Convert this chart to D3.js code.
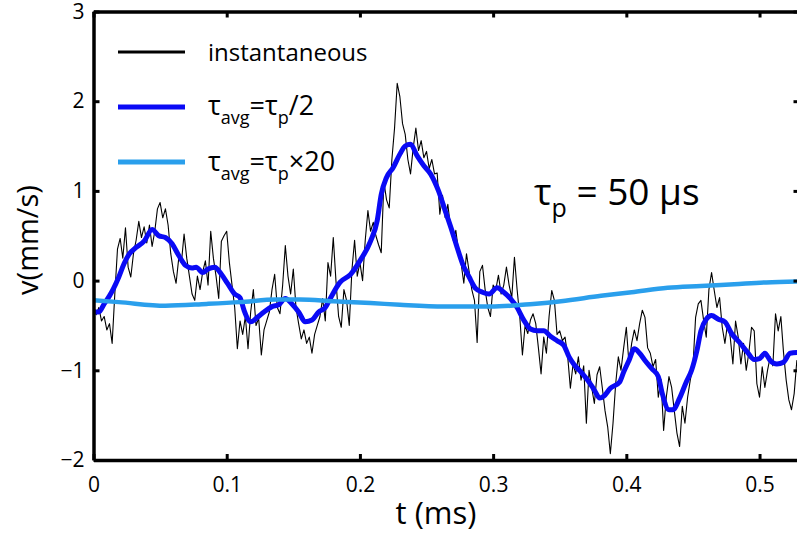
<!DOCTYPE html>
<html><head><meta charset="utf-8">
<script src="https://cdn.jsdelivr.net/npm/d3@7"></script>
<style>body{margin:0;background:#fff;} text{font-family:"Open Sans",sans-serif;fill:#000;}</style>
</head><body><svg id="c" width="797" height="537"></svg>
<script>
// instantaneous velocity, sampled every instDt ms
const instDt = 0.002;
const instV = [
-0.28,-0.38,-0.30,-0.45,-0.40,-0.55,-0.48,-0.70,-0.15,0.35,
0.47,0.25,0.59,0.15,0.04,0.30,0.45,0.66,0.48,0.60,
0.42,0.62,0.38,0.55,0.80,0.87,0.70,0.80,0.62,0.30,
0.10,-0.03,0.25,0.20,0.52,0.25,0.05,-0.15,-0.22,0.05,
-0.10,0.10,0.22,-0.05,0.55,0.25,0.05,-0.20,0.44,0.50,
0.55,0.20,-0.05,-0.30,-0.76,-0.45,-0.60,-0.40,-0.76,-0.35,
-0.10,-0.50,-0.42,-0.83,-0.55,-0.45,-0.35,-0.10,0.07,-0.30,
-0.37,-0.05,0.39,0.05,-0.15,0.13,-0.30,-0.48,-0.65,-0.55,
-0.70,-0.63,-0.81,-0.60,-0.50,-0.40,-0.20,-0.45,0.20,0.05,
0.48,0.00,-0.40,-0.52,-0.10,-0.22,-0.50,0.12,0.45,0.05,
0.20,0.00,0.45,0.78,0.55,0.65,0.50,0.40,0.31,1.10,
0.90,0.81,1.35,1.70,2.20,2.05,1.75,1.63,1.35,1.19,
1.48,1.70,1.45,1.56,1.37,1.44,1.25,1.35,1.19,1.20,
0.74,0.95,0.70,0.85,0.60,0.45,0.56,0.33,0.19,-0.03,
0.30,0.10,-0.10,-0.22,-0.69,0.10,0.17,-0.10,-0.30,-0.40,
-0.05,-0.10,0.06,-0.15,-0.05,0.15,-0.05,-0.19,0.26,-0.10,
-0.40,-0.83,-0.50,-0.59,-0.44,-0.37,-0.48,-0.75,-1.04,-0.63,
-0.81,-0.40,-0.11,-0.22,-0.60,-0.56,-0.67,-0.63,-0.85,-1.20,
-0.93,-1.04,-0.85,-1.11,-0.95,-1.59,-1.00,-1.19,-1.37,-1.05,
-0.96,-1.20,-1.45,-1.63,-1.93,-1.59,-1.15,-0.85,-1.00,-0.75,
-0.52,-0.93,-0.70,-0.55,-0.67,-0.48,-0.33,-0.41,-0.75,-0.81,
-0.96,-0.88,-1.30,-1.10,-1.67,-1.30,-1.07,-1.19,-1.45,-1.70,
-1.85,-1.40,-1.59,-1.30,-1.11,-0.96,-0.41,-0.26,-0.22,-0.44,
-0.63,-0.10,0.09,-0.11,-0.30,-0.19,-0.52,-0.70,-0.48,-0.63,
-0.93,-0.45,-0.63,-0.93,-0.70,-1.00,-0.80,-0.52,-0.56,-1.15,
-1.30,-0.96,-1.19,-1.00,-0.85,-0.95,-0.37,-0.56,-0.40,-0.80,
-1.11,-1.33,-1.44,-1.26,-0.89,-0.95
];
// tau_avg = tau_p/2
const halfT = [0.0004,0.004,0.008,0.012,0.015,0.019,0.023,0.027,0.032,0.038,0.044,0.049,0.054,0.059,0.064,0.069,0.074,0.077,0.082,0.086,0.091,0.096,0.101,0.106,0.110,0.113,0.118,0.123,0.128,0.134,0.139,0.144,0.149,0.154,0.159,0.164,0.169,0.174,0.177,0.185,0.193,0.200,0.208,0.213,0.216,0.220,0.225,0.230,0.234,0.238,0.243,0.248,0.253,0.259,0.264,0.269,0.273,0.277,0.282,0.287,0.292,0.297,0.303,0.308,0.313,0.318,0.323,0.328,0.333,0.338,0.343,0.348,0.353,0.357,0.361,0.366,0.371,0.376,0.380,0.383,0.388,0.395,0.398,0.402,0.406,0.410,0.414,0.419,0.424,0.427,0.432,0.435,0.440,0.445,0.449,0.453,0.456,0.460,0.464,0.469,0.474,0.479,0.485,0.491,0.496,0.500,0.504,0.508,0.513,0.518,0.523,0.530];
const halfV = [-0.35,-0.35,-0.26,-0.17,-0.09,0.04,0.19,0.30,0.37,0.44,0.57,0.50,0.48,0.41,0.28,0.17,0.14,0.15,0.09,0.13,0.15,0.07,-0.04,-0.15,-0.19,-0.33,-0.46,-0.41,-0.35,-0.29,-0.27,-0.20,-0.26,-0.35,-0.46,-0.44,-0.35,-0.30,-0.22,-0.02,0.07,0.22,0.44,0.67,0.96,1.15,1.26,1.41,1.50,1.52,1.39,1.28,1.19,1.00,0.78,0.56,0.37,0.19,0.04,-0.09,-0.13,-0.15,-0.08,-0.13,-0.20,-0.30,-0.44,-0.54,-0.56,-0.56,-0.62,-0.67,-0.72,-0.85,-0.94,-1.02,-1.11,-1.22,-1.31,-1.29,-1.20,-1.13,-1.02,-0.89,-0.76,-0.81,-0.89,-0.98,-1.07,-1.26,-1.44,-1.44,-1.31,-1.13,-1.00,-0.78,-0.56,-0.43,-0.39,-0.43,-0.46,-0.59,-0.69,-0.80,-0.88,-0.87,-0.81,-0.89,-0.93,-0.91,-0.81,-0.80];
// tau_avg = tau_p x 20
const longT = [0,0.019,0.054,0.085,0.110,0.137,0.155,0.180,0.208,0.230,0.263,0.298,0.330,0.351,0.381,0.404,0.431,0.456,0.481,0.505,0.530];
const longV = [-0.22,-0.24,-0.28,-0.26,-0.24,-0.21,-0.21,-0.23,-0.25,-0.27,-0.29,-0.29,-0.26,-0.23,-0.17,-0.13,-0.08,-0.06,-0.04,-0.02,-0.01];
const xTicks = [0,0.1,0.2,0.3,0.4,0.5];
const yTicks = [-2,-1,0,1,2,3];

const svg = d3.select("#c");
const L = 93.5, R = 799.5, T = 11.5, B = 460;
const x = d3.scaleLinear().domain([0,0.53]).range([L,R]);
const y = d3.scaleLinear().domain([-2,3]).range([B,T]);

svg.append("defs").append("clipPath").attr("id","clip")
  .append("rect").attr("x",L).attr("y",T).attr("width",R-L).attr("height",B-T);

const g = svg.append("g").attr("clip-path","url(#clip)");
const line = d3.line().x(d=>x(d[0])).y(d=>y(d[1]));
const inst = instV.map((v,i)=>[i*instDt, v]);
const half = halfT.map((t,i)=>[t, halfV[i]]);
const lng = longT.map((t,i)=>[t, longV[i]]);
g.append("path").datum(inst).attr("d",line).attr("fill","none").attr("stroke","#000").attr("stroke-width",1.1).attr("stroke-linejoin","round");
const sm = d3.line().x(d=>x(d[0])).y(d=>y(d[1])).curve(d3.curveMonotoneX);
g.append("path").datum(half).attr("d",sm).attr("fill","none").attr("stroke","#0a0af5").attr("stroke-width",5).attr("stroke-linejoin","round").attr("stroke-linecap","round");
g.append("path").datum(lng).attr("d",sm).attr("fill","none").attr("stroke","#2a9fec").attr("stroke-width",4.5);

// axes
function styleAxis(sel){
  sel.select(".domain").attr("stroke","#000").attr("stroke-width",3.5);
  sel.selectAll(".tick line").attr("stroke","#000").attr("stroke-width",3);
  sel.selectAll(".tick text").style("font-family","'Open Sans',sans-serif").style("font-size","21px").attr("fill","#000");
}
const fmt = d3.format("");
svg.append("g").attr("transform",`translate(0,${B})`)
  .call(d3.axisBottom(x).tickValues(xTicks).tickFormat(fmt).tickSizeInner(-6).tickSizeOuter(0).tickPadding(17))
  .call(styleAxis);
svg.append("g").attr("transform",`translate(0,${T})`)
  .call(d3.axisTop(x).tickValues(xTicks).tickFormat("").tickSizeInner(-6).tickSizeOuter(0))
  .call(styleAxis);
svg.append("g").attr("transform",`translate(${L},0)`)
  .call(d3.axisLeft(y).tickValues(yTicks).tickFormat(fmt).tickSizeInner(-6).tickSizeOuter(0).tickPadding(9))
  .call(styleAxis);
svg.append("g").attr("transform",`translate(${R},0)`)
  .call(d3.axisRight(y).tickValues(yTicks).tickFormat("").tickSizeInner(-6).tickSizeOuter(0))
  .call(styleAxis);

// axis labels
svg.append("text").attr("x",436).attr("y",524).attr("text-anchor","middle").style("font-size","31px").text("t (ms)");
svg.append("text").attr("transform","translate(38,240) rotate(-90)").attr("text-anchor","middle").style("font-size","29px").text("v(mm/s)");

// legend
const leg = [
  {c:"#000", w:3, y:52},
  {c:"#0a0af5", w:5, y:107},
  {c:"#2a9fec", w:5, y:162}
];
leg.forEach(d=>{
  svg.append("line").attr("x1",118).attr("x2",185).attr("y1",d.y).attr("y2",d.y).attr("stroke",d.c).attr("stroke-width",d.w);
});
svg.append("text").attr("x",208).attr("y",61).style("font-size","24px").text("instantaneous");
function tauText(yb, tail){
  const t = svg.append("text").attr("x",208).attr("y",yb).style("font-size","27px");
  t.append("tspan").text("τ");
  t.append("tspan").attr("dy",9).style("font-size","18px").text("avg");
  t.append("tspan").attr("dy",-9).text("=τ");
  t.append("tspan").attr("dy",9).style("font-size","18px").text("p");
  t.append("tspan").attr("dy",-9).text(tail);
}
tauText(115, "/2");
tauText(171, "×20");

// annotation
const ann = svg.append("text").attr("x",534).attr("y",205).style("font-size","37px");
ann.append("tspan").text("τ");
ann.append("tspan").attr("dy",12).style("font-size","25px").text("p");
ann.append("tspan").attr("dy",-12).text(" = 50 μs");
</script></body></html>
